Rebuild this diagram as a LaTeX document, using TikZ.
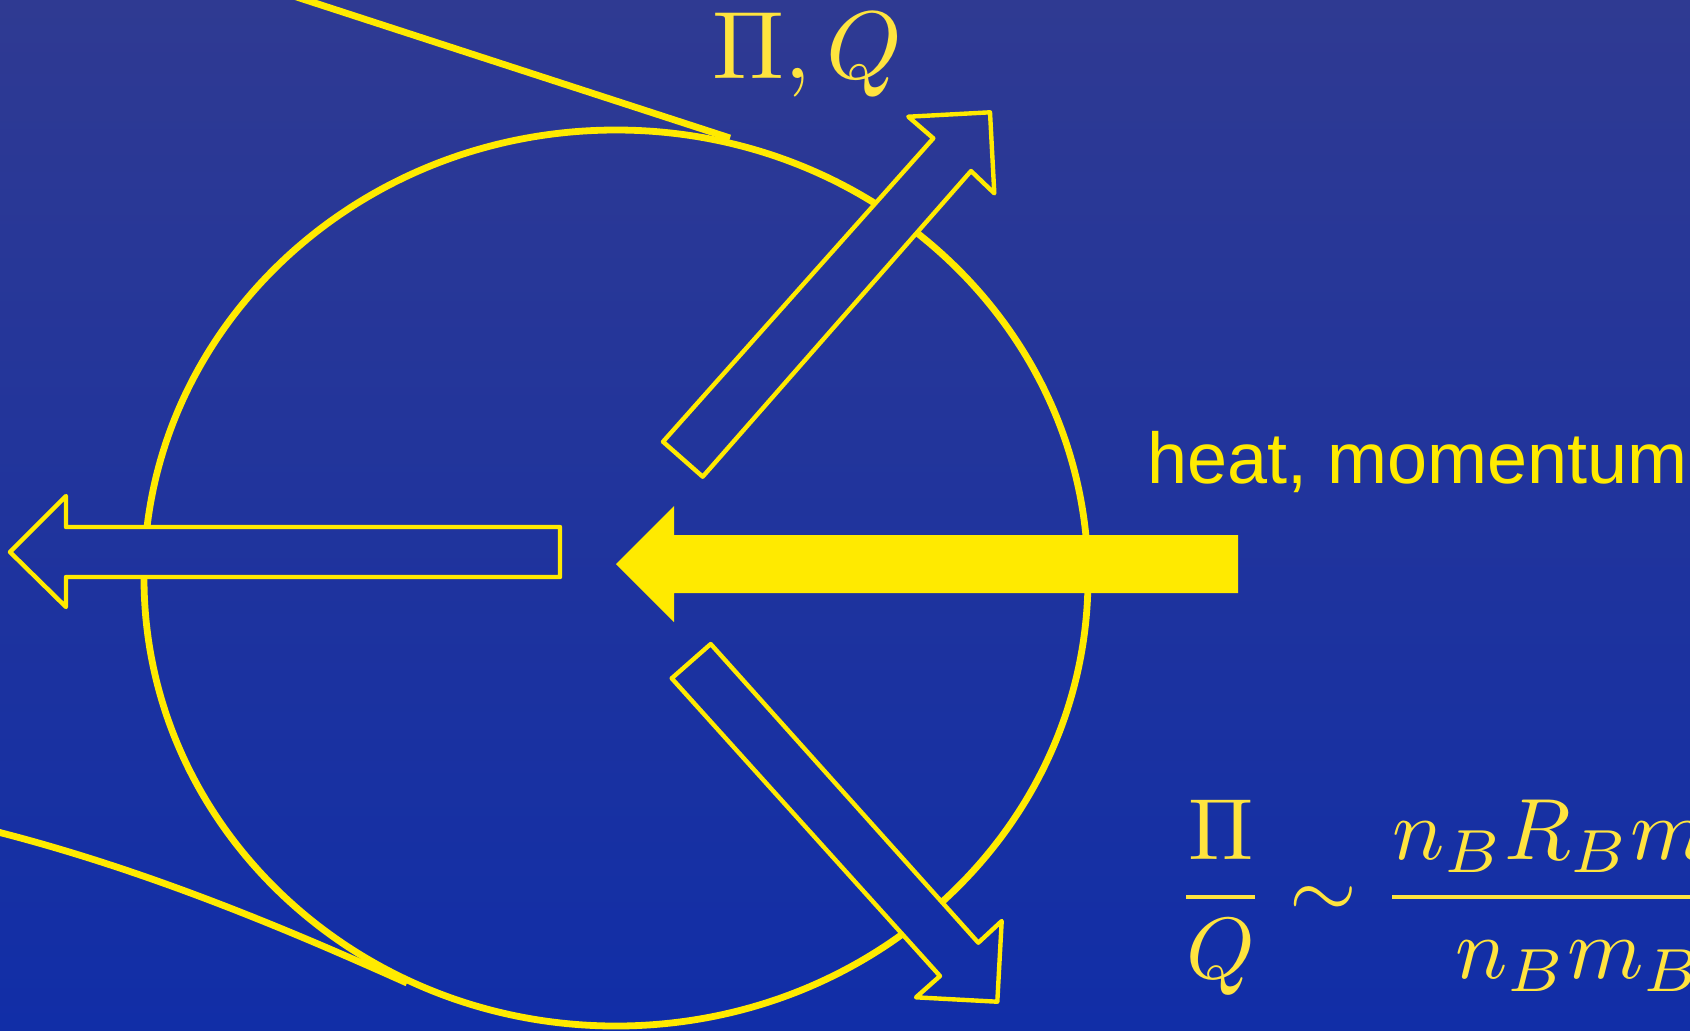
\documentclass[tikz,border=0pt]{standalone}
\usepackage{amsmath}
\usepackage{graphicx}
\usepackage{fontspec}
\newfontfamily\arialfont{Liberation Sans}
\definecolor{bgtop}{RGB}{47,58,146}
\definecolor{bgbot}{RGB}{17,46,167}
\definecolor{yel}{RGB}{255,234,0}
\definecolor{mathyel}{RGB}{255,228,62}
\begin{document}
\begin{tikzpicture}[x=0.5pt,y=-0.5pt,
  fieldline/.style={draw=yel,line width=3.4pt},
  hollowarrow/.style={draw=yel,line width=2.2pt,line join=round},
  fullarrow/.style={fill=yel},
  lbl/.style={inner sep=0pt,outer sep=0pt}]
\useasboundingbox (0,0) rectangle (1690,1030);
\clip (0,0) rectangle (1690,1030);
\shade[top color=bgtop,bottom color=bgbot] (0,0) rectangle (1690,1030);
% upper diagonal arrow
\coordinate (u1) at (663,441.7);
\coordinate (u2) at (702.7,476.7);
\coordinate (u3) at (971,171);
\coordinate (u4) at (994.3,193.3);
\coordinate (u5) at (990,112.3);
\coordinate (u6) at (908.3,116.7);
\coordinate (u7) at (933.3,138.3);
% lower diagonal arrow
\coordinate (d1) at (710.7,644);
\coordinate (d2) at (671.7,678.3);
\coordinate (d3) at (940,976);
\coordinate (d4) at (916,997.3);
\coordinate (d5) at (997.3,1001.7);
\coordinate (d6) at (1001.7,921);
\coordinate (d7) at (978.3,942.7);
% left hollow arrow
\coordinate (l1) at (10,552);
\coordinate (l2) at (66,496);
\coordinate (l3) at (66,527);
\coordinate (l4) at (560,527);
\coordinate (l5) at (560,577);
\coordinate (l6) at (66,577);
\coordinate (l7) at (66,607);
% big filled arrow
\coordinate (b1) at (616,564);
\coordinate (b2) at (674,506);
\coordinate (b3) at (674,535);
\coordinate (b4) at (1238,535);
\coordinate (b5) at (1238,593);
\coordinate (b6) at (674,593);
\coordinate (b7) at (674,622);
% plasma boundary, hidden inside the hollow arrows
\begin{scope}[even odd rule]
\clip (0,0) rectangle (1690,1030)
  (u1)--(u2)--(u3)--(u4)--(u5)--(u6)--(u7)--cycle
  (d1)--(d2)--(d3)--(d4)--(d5)--(d6)--(d7)--cycle
  (l1)--(l2)--(l3)--(l4)--(l5)--(l6)--(l7)--cycle;
\draw[fieldline] (616,578) ellipse [x radius=236pt, y radius=224pt];
\end{scope}
% open field lines
\coordinate (t0) at (275,-10);
\coordinate (t1) at (730,138);
\draw[fieldline] (t0) -- (t1);
\coordinate (c0) at (-10,830);
\coordinate (c1) at (407,983);
\draw[fieldline] (c0) .. controls (150,870) and (300,935) .. (c1);
% arrows
\draw[hollowarrow] (u1)--(u2)--(u3)--(u4)--(u5)--(u6)--(u7)--cycle;
\draw[hollowarrow] (d1)--(d2)--(d3)--(d4)--(d5)--(d6)--(d7)--cycle;
\draw[hollowarrow] (l1)--(l2)--(l3)--(l4)--(l5)--(l6)--(l7)--cycle;
\fill[fullarrow] (b1)--(b2)--(b3)--(b4)--(b5)--(b6)--(b7)--cycle;
% labels
\node[lbl,anchor=base west,text=mathyel] (pq) at (712,78) {\scalebox{4.8}{$\Pi, Q$}};
\node[lbl,anchor=base west,text=yel,font=\arialfont\fontsize{36}{40}\selectfont] (heat) at (1147,483) {heat, momentum};
\node[lbl,anchor=base west,text=mathyel] (ratio) at (1176,918.5)
  {\scalebox{4.35}{$\displaystyle \frac{\Pi}{Q}\sim\frac{n_B R_B m_B V_B}{n_B m_B V_B^2}$}};
\end{tikzpicture}
\end{document}
